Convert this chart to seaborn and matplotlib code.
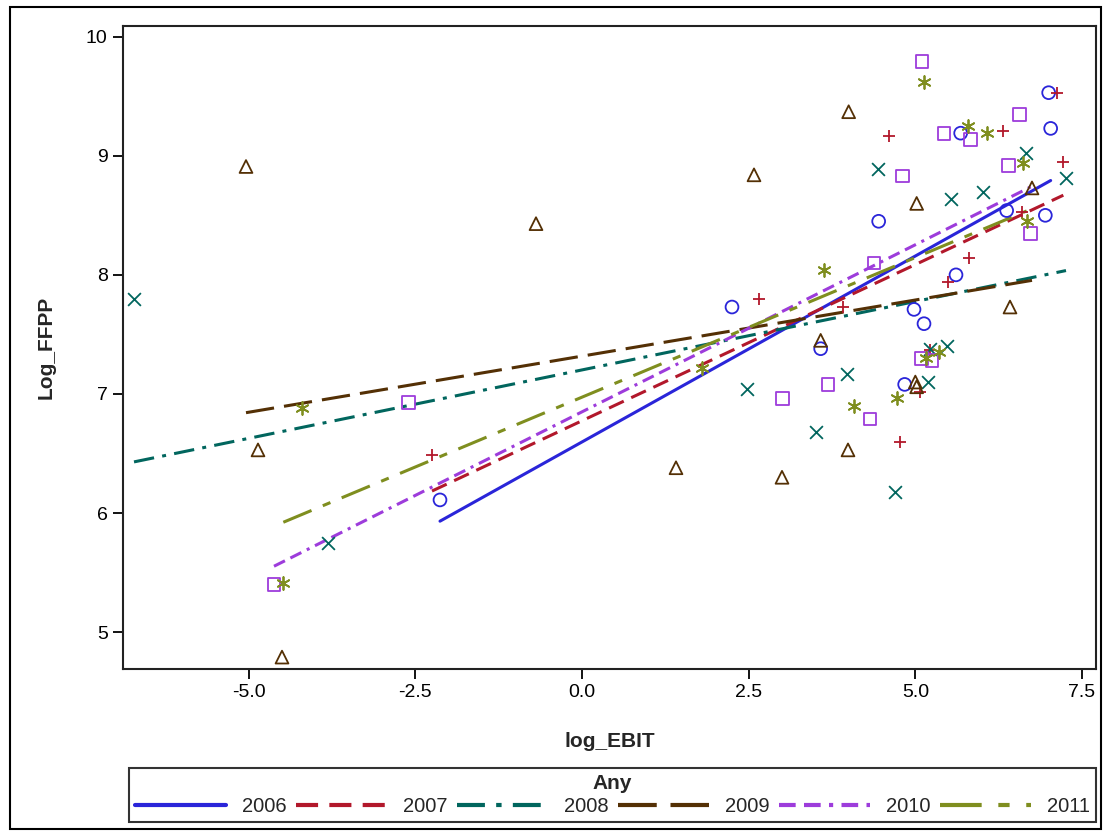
import matplotlib
matplotlib.use("Agg")
import matplotlib.pyplot as plt
from matplotlib.patches import Rectangle
from matplotlib.lines import Line2D
import seaborn as sns
import numpy as np
import pandas as pd

# ---------------- data ----------------
years = ["2006", "2007", "2008", "2009", "2010", "2011"]

x_2006 = [-2.13, 2.25, 3.58, 4.45, 4.98, 5.13, 4.84, 5.61, 5.68, 7.00, 7.03, 6.95, 6.37]
y_2006 = [6.11, 7.73, 7.38, 8.45, 7.71, 7.59, 7.08, 8.00, 9.19, 9.53, 9.23, 8.50, 8.54]

x_2007 = [-2.25, 2.65, 3.92, 4.60, 5.81, 6.32, 7.12, 7.22, 6.60, 5.49, 5.07, 4.77, 5.22]
y_2007 = [6.49, 7.80, 7.73, 9.17, 8.14, 9.21, 9.53, 8.95, 8.53, 7.94, 7.02, 6.60, 7.37]

x_2008 = [-6.72, -3.81, 2.47, 3.97, 3.51, 4.70, 4.44, 5.53, 6.02, 6.66, 7.26, 5.22, 5.47, 5.19]
y_2008 = [7.80, 5.75, 7.04, 7.17, 6.68, 6.18, 8.89, 8.64, 8.70, 9.02, 8.81, 7.38, 7.40, 7.10]

x_2009 = [-5.04, -4.86, -4.50, -0.69, 1.41, 2.58, 3.58, 3.99, 3.00, 4.00, 5.02, 6.75, 6.42, 5.00, 5.02]
y_2009 = [8.91, 6.53, 4.79, 8.43, 6.38, 8.84, 7.45, 6.53, 6.30, 9.37, 8.60, 8.73, 7.73, 7.10, 7.06]

x_2010 = [-4.62, -2.60, 3.01, 3.69, 4.32, 4.38, 4.81, 5.10, 5.43, 5.83, 6.56, 6.40, 6.73, 5.09, 5.25]
y_2010 = [5.40, 6.93, 6.96, 7.08, 6.79, 8.10, 8.83, 9.79, 9.19, 9.14, 9.35, 8.92, 8.35, 7.30, 7.28]

x_2011 = [-4.48, -4.20, 1.80, 3.63, 4.08, 4.73, 5.13, 5.79, 6.08, 6.62, 6.67, 5.16, 5.36]
y_2011 = [5.41, 6.88, 7.22, 8.04, 6.90, 6.97, 9.62, 9.25, 9.19, 8.94, 8.45, 7.30, 7.35]

xs = [x_2006, x_2007, x_2008, x_2009, x_2010, x_2011]
ys = [y_2006, y_2007, y_2008, y_2009, y_2010, y_2011]

x_ticks = [-5.0, -2.5, 0.0, 2.5, 5.0, 7.5]
y_ticks = [5, 6, 7, 8, 9, 10]

# ---------------- style ----------------
colors = ["#2A25D9", "#B2182B", "#01665E", "#543005", "#9D3CDB", "#7F8E1F"]
markers = ["o", "+", "x", "^", "s", (6, 2, 0)]
dashes = [None, (5.3, 2.7), (6.7, 2.7, 1.3, 2.7), (9.3, 3.3),
          (4, 2, 4, 2, 1, 2), (10, 4, 2.7, 4)]

sns.set_theme(style="white")
plt.rcParams["font.family"] = ["Liberation Sans", "DejaVu Sans"]

fig = plt.figure(figsize=(11.07, 8.31), dpi=100)
W, H = 1107, 831
ax = fig.add_axes([123 / W, 1 - 669 / H, (1096 - 123) / W, (669 - 26) / H])

df = pd.concat(
    [pd.DataFrame({"log_EBIT": x, "Log_FFPP": y, "Any": yr}) for x, y, yr in zip(xs, ys, years)],
    ignore_index=True,
)

lw = 2.2
handles = []
for i, yr in enumerate(years):
    sub = df[df["Any"] == yr]
    m = markers[i]
    mk = dict(marker=m, s=85, color=colors[i], linewidth=1.3)
    ms = matplotlib.markers.MarkerStyle(m)
    if ms.is_filled():
        mk.update(facecolor="none", edgecolor=colors[i])
    sns.scatterplot(data=sub, x="log_EBIT", y="Log_FFPP", ax=ax, legend=False, zorder=3, **mk)
    line_kws = dict(color=colors[i], linewidth=lw, zorder=2)
    sns.regplot(data=sub, x="log_EBIT", y="Log_FFPP", ax=ax, scatter=False, ci=None,
                truncate=True, line_kws=line_kws)
    ln = ax.lines[-1]
    if dashes[i] is not None:
        ln.set_dashes(dashes[i])
    h = Line2D([0], [0], color=colors[i], linewidth=lw + 0.8)
    if dashes[i] is not None:
        h.set_dashes(dashes[i])
    handles.append(h)

ax.set_xlim(-6.885, 7.71)
ax.set_ylim(4.69, 10.09)
ax.set_xticks(x_ticks)
ax.set_xticklabels([f"{t:.1f}" for t in x_ticks])
ax.set_yticks(y_ticks)
ax.set_yticklabels([str(t) for t in y_ticks])
ax.tick_params(axis="both", which="major", direction="out", length=7, width=1.3,
               labelsize=14, color="black", labelcolor="black", bottom=True, left=True, pad=4)
for s in ax.spines.values():
    s.set_color("#222222")
    s.set_linewidth(1.5)
ax.grid(False)
ax.set_xlabel("log_EBIT", fontsize=15, fontweight="bold", labelpad=22)
ax.set_ylabel("Log_FFPP", fontsize=15, fontweight="bold", labelpad=22)

# outer border
fig.patches.append(Rectangle((10 / W, 1 - 829 / H), (1101 - 10) / W, (829 - 7) / H,
                             transform=fig.transFigure, fill=False, edgecolor="black",
                             linewidth=1.5, zorder=0))

leg = fig.legend(handles, years, loc="lower left",
                 bbox_to_anchor=(129 / W, 1 - 822 / H, (1096 - 129) / W, (822 - 763) / H),
                 mode="expand", ncol=6, title="Any", frameon=True, fancybox=False,
                 edgecolor="black", borderaxespad=0, handlelength=4.5, fontsize=14.5,
                 title_fontproperties={"weight": "bold", "size": 15},
                 borderpad=0.3, handletextpad=0.8, columnspacing=1.0, labelspacing=0.2)
leg.get_frame().set_linewidth(1.5)
leg._legend_box.sep = 3

fig.savefig("out.png", dpi=100)
